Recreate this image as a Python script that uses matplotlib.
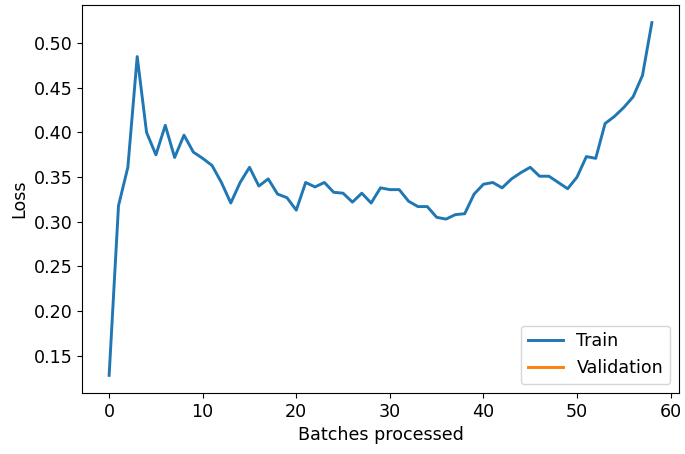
import matplotlib
matplotlib.use("Agg")
import matplotlib.pyplot as plt
import numpy as np

batches = list(range(59))
train_loss = [0.128, 0.318, 0.361, 0.485, 0.400, 0.375, 0.408, 0.372, 0.397, 0.378,
              0.371, 0.363, 0.344, 0.321, 0.344, 0.361, 0.340, 0.348, 0.331, 0.327,
              0.313, 0.344, 0.339, 0.344, 0.333, 0.332, 0.322, 0.332, 0.321, 0.338,
              0.336, 0.336, 0.323, 0.317, 0.317, 0.305, 0.303, 0.308, 0.309, 0.331,
              0.342, 0.344, 0.338, 0.348, 0.355, 0.361, 0.351, 0.351, 0.344, 0.337,
              0.350, 0.373, 0.371, 0.410, 0.418, 0.428, 0.440, 0.464, 0.523]
val_batches = []
val_loss = []

plt.rcParams['font.size'] = 12.6
fig = plt.figure(figsize=(6.85, 4.54), dpi=100)
ax = fig.add_axes([82/685, 1 - 393/454, (679-82)/685, (393-5)/454])
ax.plot(batches, train_loss, color='#1f77b4', linewidth=2.1, label='Train')
ax.plot(val_batches, val_loss, color='#ff7f0e', linewidth=2.1, label='Validation')
ax.set_xlabel('Batches processed')
ax.set_ylabel('Loss')
ax.set_xticks([0, 10, 20, 30, 40, 50, 60])
ax.legend(loc='lower right')
fig.savefig('out.png', dpi=100)
